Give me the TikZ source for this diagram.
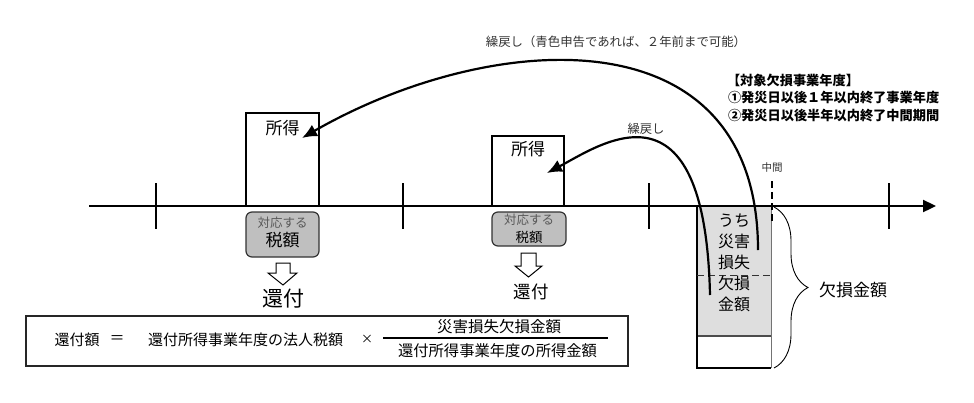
\documentclass[tikz,border=0pt]{standalone}
\usepackage{fontspec}
\setmainfont{Noto Sans CJK JP}
\usetikzlibrary{arrows.meta,decorations.pathreplacing}
\newcommand{\fsz}[1]{\fontsize{#1}{#1}\selectfont}
\begin{document}
\begin{tikzpicture}[x=1pt,y=-1pt,
  txt/.style={inner sep=0pt, outer sep=0pt},
  plainbox/.style={draw=black, line width=1.2pt, fill=white, inner sep=0pt, outer sep=0pt},
  taxbox/.style={draw=black!80, line width=1.2pt, fill=black!25, rounded corners=6pt, inner sep=0pt, outer sep=0pt},
  tickline/.style={line width=2pt},
  curvearrow/.style={line width=2.2pt, -{Latex[length=15pt,width=13pt]}},
  hollowarrow/.style={draw=black, line width=1pt, fill=white, line join=miter},
]
\useasboundingbox (0,0) rectangle (974,402);

% loss box
\fill[black!13] (697,206) rectangle (771,336);
\draw[line width=1.2pt, black!70] (697,336) -- (771,336);
\draw[line width=1pt, black!55] (771,206) -- (771,368);
\draw[line width=1.6pt] (697,206) -- (697,368) -- (771,368);
\draw[line width=0.9pt, black!80, dash pattern=on 7pt off 4pt] (697,275) -- (771,275);
\node[txt, align=center, font=\fontsize{16}{21}\selectfont] (losstxt) at (734,263) {うち\\災害\\損失\\欠損\\金額};

% income boxes
\node[plainbox, minimum width=73pt, minimum height=93pt] (inc1) at (282.5,159.5) {};
\node[txt, font=\fsz{17}] (inc1t) at (282.5,128) {所得};
\node[plainbox, minimum width=72pt, minimum height=70pt] (inc2) at (528,171) {};
\node[txt, font=\fsz{17}] (inc2t) at (528,149) {所得};

% timeline
\coordinate (tl0) at (89,206);
\coordinate (tl1) at (936,206);
\draw[line width=2.3pt, -{Triangle[length=13pt,width=12pt]}] (tl0) -- (tl1);
\foreach \xx/\nm in {156/ta,403/tb,649/tc,889/td}{
  \coordinate (\nm1) at (\xx,183);
  \coordinate (\nm2) at (\xx,229);
  \draw[tickline] (\nm1) -- (\nm2);
}
\coordinate (mid1) at (772,181);
\coordinate (mid2) at (772,224);
\draw[line width=2.2pt, dash pattern=on 7pt off 4pt] (mid1) -- (mid2);
\node[txt, font=\fsz{10.5}, text=black!80] (midt) at (772,168) {中間};

% tax boxes
\node[taxbox, minimum width=73pt, minimum height=45pt] (tax1) at (282.5,234.5) {};
\node[txt, font=\fsz{12.5}, text=black!65] (tax1a) at (282.5,223) {対応する};
\node[txt, font=\fsz{17}] (tax1b) at (282.5,240) {税額};
\node[taxbox, minimum width=74pt, minimum height=34pt] (tax2) at (529,229) {};
\node[txt, font=\fsz{12.5}, text=black!65] (tax2a) at (529,220) {対応する};
\node[txt, font=\fsz{13.5}] (tax2b) at (529,237) {税額};

% hollow arrows
\draw[hollowarrow] (276,263) -- (290,263) -- (290,273) -- (297,273) -- (283,285) -- (268,273) -- (276,273) -- cycle;
\draw[hollowarrow] (521,253) -- (536,253) -- (536,266) -- (542,266) -- (528.5,277) -- (515,266) -- (521,266) -- cycle;
\node[txt, font=\fsz{21}] (ref1) at (283,299) {還付};
\node[txt, font=\fsz{17.5}] (ref2) at (531,292) {還付};

% curves
\coordinate (bs) at (758,250);
\coordinate (be) at (302,138);
\draw[curvearrow] (bs) .. controls (758,10) and (490,30) .. (be);
\coordinate (ss) at (710,295);
\coordinate (se) at (547,173);
\draw[curvearrow] (ss) .. controls (705,70) and (600,145) .. (se);
\node[txt, font=\fsz{12.4}, text=black!80] (lbl1) at (616,42) {繰戻し（青色申告であれば、２年前まで可能）};
\node[txt, font=\fsz{12.3}, text=black!80] (lbl2) at (646,129) {繰戻し};

% target years
\node[txt, anchor=west, font=\bfseries\fsz{13.2}] (ty0) at (727,80) {【対象欠損事業年度】};
\node[txt, anchor=west, font=\bfseries\fsz{13.2}] (ty1) at (728,98) {①発災日以後１年以内終了事業年度};
\node[txt, anchor=west, font=\bfseries\fsz{13.2}] (ty2) at (728,116) {②発災日以後半年以内終了中間期間};

% brace
\coordinate (br1) at (774,207);
\coordinate (br2) at (774,368);
\draw[line width=0.9pt, decorate, decoration={brace, amplitude=34pt, aspect=0.5}] (br1) -- (br2);
\node[txt, font=\fsz{17}] (losslbl) at (853,290) {欠損金額};

% formula
\node[draw=black!85, line width=1.4pt, inner sep=0pt, minimum width=602pt, minimum height=50pt] (fbox) at (327,341) {};
\node[txt, font=\fsz{15}] (f1) at (77,340) {還付額};
\node[txt, font=\fsz{15}] (f2) at (117,340) {＝};
\node[txt, font=\fsz{15}] (f3) at (245.5,340) {還付所得事業年度の法人税額};
\node[txt, font=\fsz{12}] (f4) at (367,339) {×};
\coordinate (fl1) at (383,338);
\coordinate (fl2) at (608,338);
\draw[line width=1.2pt] (fl1) -- (fl2);
\node[txt, font=\fsz{15.5}] (f5) at (499,327) {災害損失欠損金額};
\node[txt, font=\fsz{15.3}] (f6) at (497.5,351) {還付所得事業年度の所得金額};
\end{tikzpicture}
\end{document}
